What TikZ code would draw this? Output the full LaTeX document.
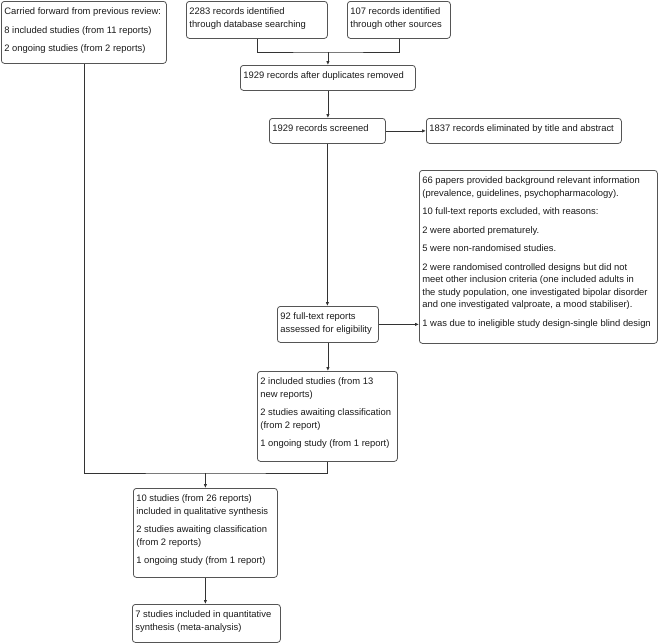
\documentclass[tikz,border=0pt]{standalone}
\usepackage{fontspec}
\setmainfont{Liberation Sans}
\usetikzlibrary{arrows.meta}
\definecolor{boxline}{HTML}{555555}
\definecolor{connc}{HTML}{333333}
\definecolor{txt}{HTML}{1A1A1A}
\newcommand{\bxt}[3]{\parbox[c][#2pt][t]{#1pt}{\fontsize{9.4}{12.5}\selectfont\parindent=0pt\parskip=6pt\leftskip=3pt\rightskip=-60pt plus 1fil\rule{0pt}{13.4pt}#3}}
\tikzset{
  boxst/.style={draw=boxline, line width=0.8pt, rounded corners=3pt, inner sep=0pt, anchor=north west, text=txt},
  link/.style={draw=connc, line width=0.8pt},
  arr/.style={link, -{Latex[length=4pt,width=3.5pt]}}
}
\begin{document}
\begin{tikzpicture}[x=1pt,y=-1pt]
\useasboundingbox (0,0) rectangle (658,643);
\node[boxst] (A) at (1,1) {\bxt{165}{62}{Carried forward from previous review:\par 8 included studies (from 11 reports)\par 2 ongoing studies (from 2 reports)}};
\node[boxst] (B) at (186,1) {\bxt{141}{37}{2283 records identified\\through database searching}};
\node[boxst] (C) at (347,1) {\bxt{103}{37}{107 records identified\\through other sources}};
\node[boxst] (D) at (240,65) {\bxt{175}{25}{1929 records after duplicates removed}};
\node[boxst] (E) at (269,118) {\bxt{116}{25}{1929 records screened}};
\node[boxst] (F) at (426,118) {\bxt{195}{25}{1837 records eliminated by title and abstract}};
\node[boxst] (G) at (419,170) {\bxt{238}{173}{66 papers provided background relevant information\\(prevalence, guidelines, psychopharmacology).\par 10 full-text reports excluded, with reasons:\par 2 were aborted prematurely.\par 5 were non-randomised studies.\par 2 were randomised controlled designs but did not\\meet other inclusion criteria (one included adults in\\the study population, one investigated bipolar disorder\\and one investigated valproate, a mood stabiliser).\par 1 was due to ineligible study design-single blind design}};
\node[boxst] (H) at (277,306) {\bxt{101}{36}{92 full-text reports\\assessed for eligibility}};
\node[boxst] (I) at (257,371) {\bxt{140}{90}{2 included studies (from 13\\new reports)\par 2 studies awaiting classification\\(from 2 report)\par 1 ongoing study (from 1 report)}};
\node[boxst] (J) at (133,488) {\bxt{144}{89}{10 studies (from 26 reports)\\included in qualitative synthesis\par 2 studies awaiting classification\\(from 2 reports)\par 1 ongoing study (from 1 report)}};
\node[boxst] (K) at (132,604) {\bxt{148}{38}{7 studies included in quantitative\\synthesis (meta-analysis)}};
\path (0,52) coordinate (h1);
\path (0,473) coordinate (h2);
\coordinate (j1) at (D.north |- h1);
\coordinate (j2) at (J.north |- h2);
\draw[link] (B.south) |- (j1) -| (C.south);
\draw[arr] (j1) -- (D.north);
\draw[arr] (D.south) -- (D.south |- E.north);
\draw[arr] (E.east) -- (E.east -| F.west);
\draw[arr] (E.south) -- (E.south |- H.north);
\draw[arr] (H.east) -- (H.east -| G.west);
\draw[arr] (H.south) -- (H.south |- I.north);
\draw[link] (A.south) |- (j2) -| (I.south);
\draw[arr] (j2) -- (J.north);
\draw[arr] (J.south) -- (J.south |- K.north);
\end{tikzpicture}
\end{document}
